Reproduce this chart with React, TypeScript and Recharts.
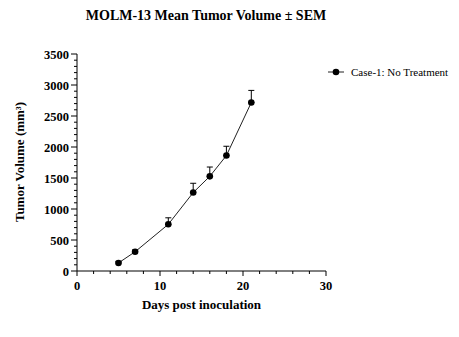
import React from "react";
import { LineChart, Line, XAxis, YAxis, ErrorBar } from "recharts";

const days = [5, 7, 11, 14, 16, 18, 21];
const meanVolume = [130, 310, 753, 1265, 1527, 1862, 2718];
const semVolume = [25, 30, 105, 150, 150, 150, 195];

const xTicks = [0, 2, 4, 6, 8, 10, 12, 14, 16, 18, 20, 22, 24, 26, 28, 30];
const yTicks = Array.from({ length: 36 }, (_, i) => i * 100);

const data = days.map((d, i) => ({
  day: d,
  volume: meanVolume[i],
  err: [0, semVolume[i]],
}));

const FONT = "'Liberation Serif', 'Times New Roman', serif";

function XTick(props: any) {
  const { x, y, payload } = props;
  const major = payload.value % 10 === 0;
  return (
    <g>
      <line x1={x} y1={y} x2={x} y2={y + (major ? 5 : 3)} stroke="#000" />
      {major && (
        <text
          x={x}
          y={y + 19}
          textAnchor="middle"
          fontFamily={FONT}
          fontWeight="bold"
          fontSize={12.5}
          fill="#000"
        >
          {payload.value}
        </text>
      )}
    </g>
  );
}

function YTick(props: any) {
  const { x, y, payload } = props;
  const major = payload.value % 500 === 0;
  return (
    <g>
      <line x1={x} y1={y} x2={x - (major ? 6 : 3)} y2={y} stroke="#000" />
      {major && (
        <text
          x={x - 8}
          y={y + 4.5}
          textAnchor="end"
          fontFamily={FONT}
          fontWeight="bold"
          fontSize={12.5}
          fill="#000"
        >
          {payload.value}
        </text>
      )}
    </g>
  );
}

export default function App() {
  return (
    <div
      style={{
        position: "fixed",
        left: 0,
        top: 0,
        width: 459,
        height: 337,
        background: "#fff",
        fontFamily: FONT,
      }}
    >
      <div
        style={{
          position: "absolute",
          left: 0,
          width: 412,
          top: 8,
          textAlign: "center",
          fontWeight: "bold",
          fontSize: 14,
        }}
      >
        MOLM-13 Mean Tumor Volume ± SEM
      </div>
      <LineChart
        width={459}
        height={337}
        data={data}
        margin={{ top: 54, right: 133, bottom: 36, left: 27 }}
      >
        <XAxis
          dataKey="day"
          type="number"
          domain={[0, 30]}
          ticks={xTicks}
          interval={0}
          tickSize={0}
          tickMargin={0}
          tickLine={false}
          tick={<XTick />}
          height={30}
          stroke="#000"
        />
        <YAxis
          type="number"
          domain={[0, 3500]}
          ticks={yTicks}
          interval={0}
          tickSize={0}
          tickMargin={0}
          tickLine={false}
          tick={<YTick />}
          width={50}
          stroke="#000"
        />
        <Line
          dataKey="volume"
          stroke="#222"
          strokeWidth={1}
          dot={{ r: 3.3, fill: "#000", stroke: "#000", strokeWidth: 0 }}
          isAnimationActive={false}
        >
          <ErrorBar
            dataKey="err"
            direction="y"
            width={3}
            stroke="#000"
            strokeWidth={1}
            isAnimationActive={false}
          />
        </Line>
      </LineChart>
      <div
        style={{
          position: "absolute",
          left: 77,
          width: 249,
          top: 297,
          textAlign: "center",
          fontWeight: "bold",
          fontSize: 13,
        }}
      >
        Days post inoculation
      </div>
      <div
        style={{
          position: "absolute",
          left: 20,
          top: 162,
          transform: "translate(-50%, -50%) rotate(-90deg)",
          whiteSpace: "nowrap",
          fontWeight: "bold",
          fontSize: 13,
        }}
      >
        Tumor Volume (mm³)
      </div>
      <div
        style={{
          position: "absolute",
          left: 327,
          top: 66,
          display: "flex",
          alignItems: "center",
          fontSize: 11,
          whiteSpace: "nowrap",
        }}
      >
        <svg width={18} height={10} style={{ marginRight: 6 }}>
          <line x1={1} y1={5} x2={17} y2={5} stroke="#222" />
          <circle cx={9} cy={5} r={3.3} fill="#000" />
        </svg>
        Case-1: No Treatment
      </div>
    </div>
  );
}
